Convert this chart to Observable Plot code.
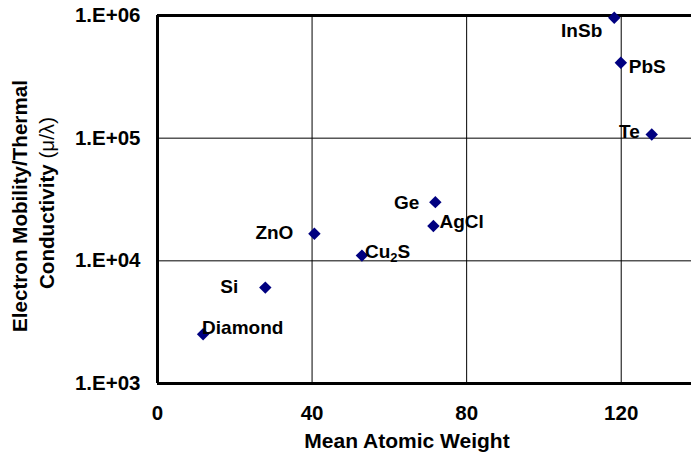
<!DOCTYPE html>
<html>
<head>
<meta charset="utf-8">
<script src="https://cdn.jsdelivr.net/npm/d3@7"></script>
<script src="https://cdn.jsdelivr.net/npm/@observablehq/plot@0.6"></script>
<style>
  html, body { margin: 0; padding: 0; background: #fff; overflow: hidden; }
  #chart { width: 691px; height: 455px; }
</style>
</head>
<body>
<div id="chart"></div>
<script>
// Materials and their values
const materials = ["Diamond", "Si", "ZnO", "Cu2S", "Ge", "AgCl", "InSb", "PbS", "Te"];
const atomicWeight = [11.8, 27.9, 40.6, 52.9, 71.9, 71.4, 118.2, 119.9, 127.9];
const mobilityRatio = [2520, 6050, 16650, 11030, 30100, 19200, 958000, 412000, 107000];

// Axis ticks
const xTicks = [0, 40, 80, 120];
const yTicks = [1e3, 1e4, 1e5, 1e6];
const yTickLabels = ["1.E+03", "1.E+04", "1.E+05", "1.E+06"];

const rows = materials.map((name, i) => ({name, w: atomicWeight[i], r: mobilityRatio[i]}));

// Label placement around each marker: [anchor, dx, dy]
const place = {
  "Diamond": ["start", -1, -6],
  "Si": ["end", -27, -1],
  "ZnO": ["end", -21, -1],
  "Cu2S": ["start", 3, -4],
  "Ge": ["end", -16, 1],
  "AgCl": ["start", 6, -4],
  "InSb": ["end", -12, 13],
  "PbS": ["start", 8, 4],
  "Te": ["end", -12, -3]
};
const labelMark = (d) => Plot.text([d], {
  x: "w", y: "r", text: "name",
  textAnchor: place[d.name][0], dx: place[d.name][1], dy: place[d.name][2],
  fill: "#000", fontWeight: "bold", fontSize: 19
});

const chart = Plot.plot({
  width: 691,
  height: 455,
  marginLeft: 157,
  marginRight: -7,
  marginTop: 15,
  marginBottom: 72,
  x: {domain: [0, 140]},
  y: {type: "log", domain: [1e3, 1e6]},
  style: {
    fontFamily: "'Liberation Sans', Arial, sans-serif",
    fontWeight: "bold",
    fontSize: "20.5px",
    color: "#000",
    background: "#fff",
    overflow: "visible"
  },
  marks: [
    Plot.gridX(xTicks.slice(1), {stroke: "#000", strokeOpacity: 1, strokeWidth: 1}),
    Plot.gridY([1e4, 1e5], {stroke: "#000", strokeOpacity: 1, strokeWidth: 1}),
    Plot.ruleY([1e3, 1e6], {stroke: "#000", strokeWidth: 3}),
    Plot.ruleX([0], {stroke: "#000", strokeWidth: 3}),
    Plot.axisX({ticks: xTicks, tickSize: 0, tickPadding: 22, label: null, fontSize: 20.5}),
    Plot.axisY({
      ticks: yTicks, tickSize: 0, tickPadding: 17, label: null, fontSize: 20.5,
      tickFormat: d => yTickLabels[yTicks.indexOf(d)]
    }),
    Plot.dot(rows, {x: "w", y: "r", symbol: "diamond2", r: 5.6, fill: "#000080", stroke: "none"}),
    ...rows.map(labelMark)
  ]
});

const svg = d3.select(chart);

// Subscript in the copper sulfide label
svg.selectAll("text").filter(function () { return this.textContent === "Cu2S"; }).each(function () {
  const t = d3.select(this);
  t.text(null);
  t.append("tspan").text("Cu");
  t.append("tspan").attr("font-size", 13).attr("dy", 4).text("2");
  t.append("tspan").attr("dy", -4).text("S");
});

// X axis title
svg.append("text")
  .attr("x", 407).attr("y", 448)
  .attr("text-anchor", "middle")
  .attr("font-size", 21).attr("font-weight", "bold")
  .text("Mean Atomic Weight");

// Y axis title (two rotated lines)
const yTitle = svg.append("g").attr("font-size", 20.6).attr("text-anchor", "middle");
yTitle.append("text")
  .attr("transform", "translate(27,206) rotate(-90)")
  .attr("font-weight", "bold")
  .text("Electron Mobility/Thermal");
const line2 = yTitle.append("text")
  .attr("transform", "translate(53.5,203) rotate(-90)");
line2.append("tspan").attr("font-weight", "bold").text("Conductivity ");
line2.append("tspan").attr("font-weight", "normal").text("(μ/λ)");

document.getElementById("chart").appendChild(chart);
</script>
</body>
</html>
